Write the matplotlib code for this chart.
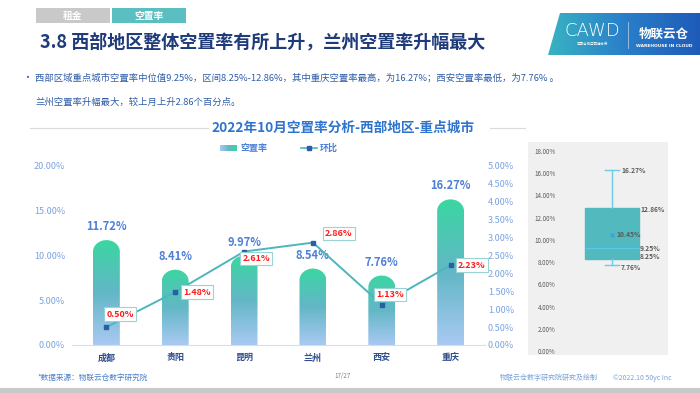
import numpy as np
import matplotlib
matplotlib.use('Agg')
import matplotlib.pyplot as plt
from matplotlib.patches import Polygon, Rectangle
from matplotlib.lines import Line2D

plt.rcParams['font.family'] = ['Noto Sans CJK SC', 'DejaVu Sans']

# data
cities = ['成都', '贵阳', '昆明', '兰州', '西安', '重庆']
vacancy = [11.72, 8.41, 9.97, 8.54, 7.76, 16.27]
mom = [0.50, 1.48, 2.61, 2.86, 1.13, 2.23]
box_stats = {'whislo': 7.76, 'q1': 8.25, 'med': 9.25, 'mean': 10.45, 'q3': 12.86, 'whishi': 16.27}

W, H = 700, 393
fig = plt.figure(figsize=(7, 3.93), dpi=100)


def fx(x):
    return x / W


def fy(y):
    return 1 - y / H


def px_rect(x0, y0, x1, y1):
    return [fx(x0), fy(y1), (x1 - x0) / W, (y1 - y0) / H]


# header tabs
fig.patches.append(Rectangle((fx(36), fy(23)), 74 / W, 15 / H, transform=fig.transFigure,
                             fc='#C9C9C9', ec='none'))
fig.patches.append(Rectangle((fx(112), fy(23)), 74 / W, 15 / H, transform=fig.transFigure,
                             fc='#5BBFC1', ec='none'))
fig.text(fx(73), fy(15.5), '租金', color='white', fontsize=7, fontweight='bold', ha='center', va='center')
fig.text(fx(149), fy(15.5), '空置率', color='white', fontsize=7, fontweight='bold', ha='center', va='center')

fig.text(fx(40), fy(42), '3.8 西部地区整体空置率有所上升，兰州空置率升幅最大', color='#1F3B7A',
         fontsize=13, fontweight='bold', ha='left', va='center')

# logo
lax = fig.add_axes(px_rect(548, 13, 700, 55))
lax.set_xlim(0, 152)
lax.set_ylim(42, 0)
lax.axis('off')
grad = np.linspace(0, 1, 200).reshape(1, -1)
cmap_logo = matplotlib.colors.LinearSegmentedColormap.from_list('logo', ['#38B3C2', '#2A7FC9', '#1E5BB8'])
im = lax.imshow(grad, extent=(0, 152, 42, 0), aspect='auto', cmap=cmap_logo)
clip = Polygon([(0, 42), (12, 0), (152, 0), (152, 42)], closed=True, transform=lax.transData)
im.set_clip_path(clip)
fig.text(fx(592), fy(31), 'CAWD', color='white', fontsize=13, ha='center', va='center',
         family='DejaVu Sans', fontweight='light')
fig.text(fx(592), fy(44), '中国仓储与配送协会', color='white', fontsize=2.5, ha='center', va='center')
fig.add_artist(Line2D([fx(628), fx(628)], [fy(22), fy(48)], color='white', lw=0.5, alpha=0.7))
fig.text(fx(664), fy(34), '物联云仓', color='white', fontsize=9, fontweight='bold', ha='center', va='center')
fig.text(fx(664), fy(46), 'WAREHOUSE IN CLOUD', color='white', fontsize=3.2, ha='center', va='center',
         family='DejaVu Sans', fontweight='bold')

# bullet text
fig.text(fx(22), fy(78), '•', color='#2F5DA8', fontsize=7, ha='left', va='center')
fig.text(fx(35), fy(78),
         '西部区域重点城市空置率中位值9.25%，区间8.25%-12.86%，其中重庆空置率最高，为16.27%；西安空置率最低，为7.76% 。',
         color='#2F5DA8', fontsize=6.75, ha='left', va='center')
fig.text(fx(35), fy(102), '兰州空置率升幅最大，较上月上升2.86个百分点。',
         color='#2F5DA8', fontsize=6.75, ha='left', va='center')

# chart title
fig.text(fx(343), fy(128), '2022年10月空置率分析-西部地区-重点城市', color='#2E74CF',
         fontsize=9.8, fontweight='bold', ha='center', va='center')
fig.add_artist(Line2D([fx(30), fx(208)], [fy(128), fy(128)], color='#DADADA', lw=0.8))
fig.add_artist(Line2D([fx(490), fx(525)], [fy(128), fy(128)], color='#DADADA', lw=0.8))

# legend
cmap_bar = matplotlib.colors.LinearSegmentedColormap.from_list('bar', ['#A9C9F2', '#62B7C6', '#3BD6A2'])
legax = fig.add_axes(px_rect(220, 145, 237, 151))
legax.imshow(np.linspace(0, 1, 50).reshape(1, -1), aspect='auto', cmap=cmap_bar)
legax.axis('off')
fig.text(fx(240), fy(148), '空置率', color='#4D7FD5', fontsize=6.5, fontweight='bold', ha='left', va='center')
fig.add_artist(Line2D([fx(301), fx(317)], [fy(148), fy(148)], color='#4DB6BC', lw=1.2))
fig.add_artist(Line2D([fx(309)], [fy(148)], marker='s', markersize=2.5, color='#2E5DA8', lw=0))
fig.text(fx(320), fy(148), '环比', color='#4D7FD5', fontsize=6.5, fontweight='bold', ha='left', va='center')

# main chart
ax = fig.add_axes(px_rect(72, 166, 485, 345))
for s in ['top', 'right', 'left']:
    ax.spines[s].set_visible(False)
ax.spines['bottom'].set_color('#D3DDEE')
ax.set_yticks(np.arange(0, 20.1, 5))
ax.set_yticklabels([f'{v:.2f}%' for v in np.arange(0, 20.1, 5)])
ax.tick_params(axis='y', length=0, pad=5, labelcolor='#7BA3E0', labelsize=6.5)
ax.set_xticks(range(len(cities)))
ax.set_xticklabels(cities)
ax.tick_params(axis='x', length=0, pad=6, labelcolor='#2F4E8C', labelsize=6.5)
for lbl in ax.get_xticklabels():
    lbl.set_fontweight('bold')

bw = 0.39
ry = 1.3
theta = np.linspace(np.pi, 0, 40)
for i, v in enumerate(vacancy):
    x0, x1 = i - bw / 2, i + bw / 2
    top_x = i + bw / 2 * np.cos(theta)
    top_y = v - ry + ry * np.sin(theta)
    verts = [(x0, 0)] + list(zip(top_x, top_y)) + [(x1, 0)]
    patch = Polygon(verts, closed=True, fc='none', ec='none', transform=ax.transData)
    ax.add_patch(patch)
    bar_im = ax.imshow(np.linspace(0, 1, 100).reshape(-1, 1), extent=(x0, x1, 0, v), origin='lower',
                       aspect='auto', cmap=cmap_bar, zorder=2)
    bar_im.set_clip_path(patch)
    ax.annotate(f'{v:.2f}%', (i, v), xytext=(0, 5), textcoords='offset points', ha='center', va='bottom',
                color='#4D7FD5', fontsize=8, fontweight='bold')
ax.set_xlim(-0.5, len(cities) - 0.5)
ax.set_ylim(0, 20)

ax2 = ax.twinx()
ax2.set_ylim(0, 5)
for s in ['top', 'right', 'left', 'bottom']:
    ax2.spines[s].set_visible(False)
ax2.set_yticks(np.arange(0, 5.01, 0.5))
ax2.set_yticklabels([f'{v:.2f}%' for v in np.arange(0, 5.01, 0.5)])
ax2.tick_params(axis='y', length=0, pad=2, labelcolor='#7BA3E0', labelsize=6.5)
ax2.plot(range(len(cities)), mom, color='#4DB6BC', lw=1.4, marker='s', markersize=2.8,
         mfc='#2E5DA8', mec='#2E5DA8', zorder=3)
offsets = [(14, -13), (22, 0), (12, 7), (26, -9), (8, -10), (21, 0)]
for i, (v, (dx, dy)) in enumerate(zip(mom, offsets)):
    ax2.annotate(f'{v:.2f}%', (i, v), xytext=(dx * 0.72, -dy * 0.72), textcoords='offset points',
                 ha='center', va='center', color='#FF1A1A', fontsize=6.5, fontweight='bold',
                 bbox=dict(boxstyle='square,pad=0.25', fc='white', ec='#9AD3D3', lw=0.8), zorder=4)

# box plot panel
bax = fig.add_axes(px_rect(528, 142, 668, 355))
bax.set_facecolor('#F0F0F0')
for s in bax.spines.values():
    s.set_visible(False)
stats = dict(box_stats)
stats['fliers'] = []
bax.bxp([stats], positions=[0.6], widths=0.38, showmeans=True, patch_artist=True,
        boxprops=dict(facecolor='#52B9BF', edgecolor='#52B9BF'),
        medianprops=dict(color='#5BC8E6', lw=1),
        whiskerprops=dict(color='#6CCBE6', lw=1),
        capprops=dict(color='#6CCBE6', lw=1), capwidths=0.1,
        meanprops=dict(marker='x', markeredgecolor='#3FA0D8', markersize=3))
bax.set_xlim(0, 1)
bax.set_ylim(-0.36, 18.81)
bax.set_xticks([])
ticks = np.arange(0, 18.1, 2)
bax.set_yticks(ticks)
bax.set_yticklabels([f'{t:.2f}%' for t in ticks])
bax.tick_params(axis='y', length=0, pad=-20, labelsize=4.5, labelcolor='#595959')
lab_kw = dict(fontsize=4.8, color='#595959', fontweight='bold', va='center', ha='left')
bax.text(0.665, box_stats['whishi'], f"{box_stats['whishi']:.2f}%", **lab_kw)
bax.text(0.8, box_stats['q3'] - 0.15, f"{box_stats['q3']:.2f}%", **lab_kw)
bax.text(0.63, box_stats['mean'], f"{box_stats['mean']:.2f}%", **lab_kw)
bax.text(0.8, box_stats['med'] - 0.05, f"{box_stats['med']:.2f}%", **lab_kw)
bax.text(0.8, box_stats['q1'] + 0.25, f"{box_stats['q1']:.2f}%", **lab_kw)
bax.text(0.665, box_stats['whislo'] - 0.2, f"{box_stats['whislo']:.2f}%", **lab_kw)

# footer
fig.text(fx(37), fy(378), '*数据来源：物联云仓数字研究院', color='#4A7FC8', fontsize=5.5,
         style='italic', ha='left', va='center')
fig.text(fx(343), fy(376), '17/27', color='#808080', fontsize=4.5, ha='center', va='center')
fig.text(fx(500), fy(378), '物联云仓数字研究院研究及绘制', color='#7BA3D6', fontsize=5, ha='left', va='center')
fig.text(fx(613), fy(378), '©2022.10 50yc Inc', color='#7BA3D6', fontsize=5, ha='left', va='center')
fig.patches.append(Rectangle((0, 0), 1, 5 / H, transform=fig.transFigure, fc='#C9C9C9', ec='none'))

fig.savefig('out.png', dpi=100)
